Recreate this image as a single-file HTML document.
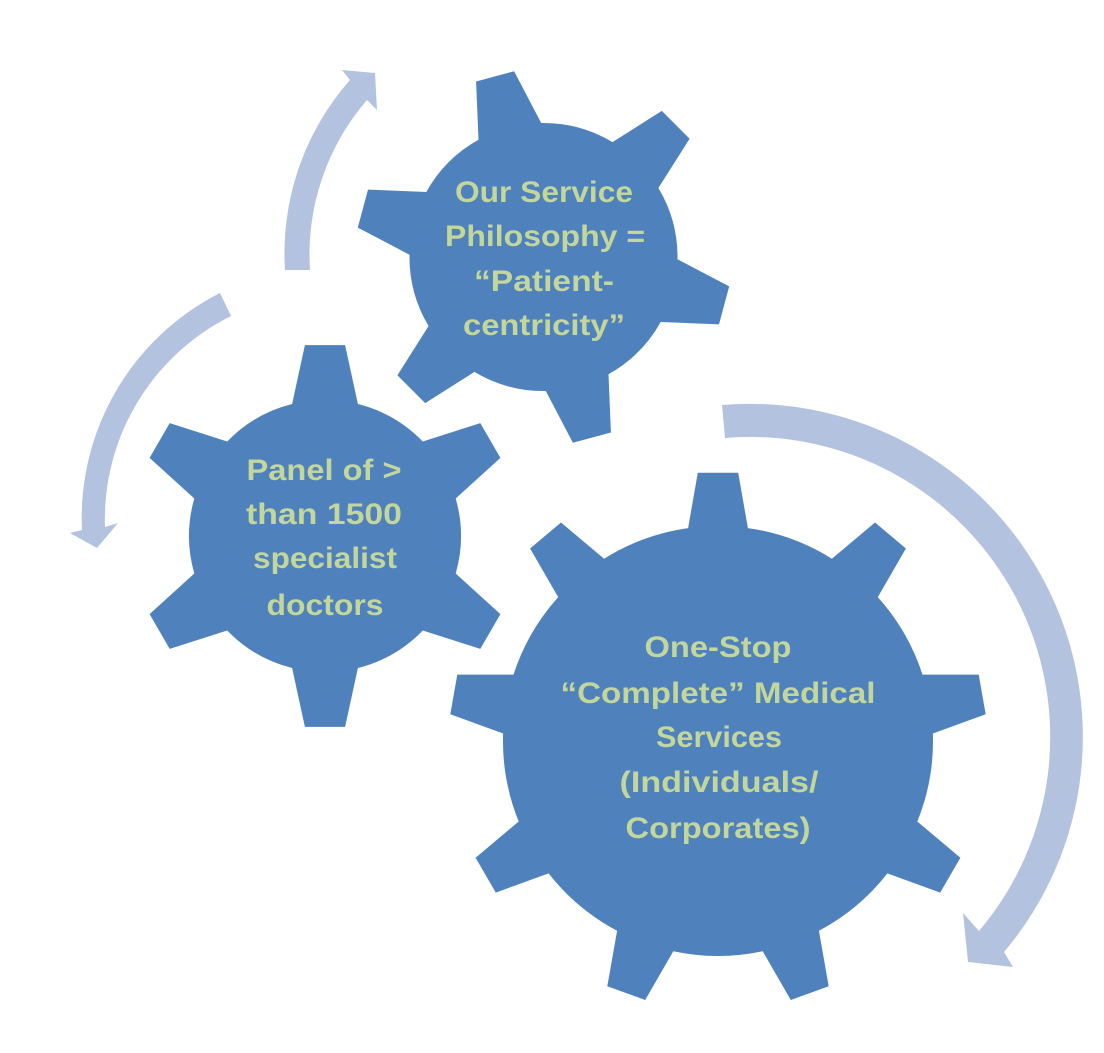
<!DOCTYPE html>
<html><head><meta charset="utf-8"><style>
html,body{margin:0;padding:0;background:#fff;}
svg{display:block;}
text{font-family:"Liberation Sans",sans-serif;font-weight:bold;font-size:30px;fill:#c3d69b;}
</style></head><body>
<svg id="s" width="1104" height="1053" viewBox="0 0 1104 1053" xmlns="http://www.w3.org/2000/svg">
<rect width="1104" height="1053" fill="#fff"/>
<g fill="#b3c3df">
<path d="M722,405 A333,333 0 0 1 1004,952 L1013,967 L968,962 L963,913 L979,931 A300,300 0 0 0 725,438 Z"/>
<path d="M285,270 A262,262 0 0 1 350,80 L342,70 L375,73 L377,110 L367,100 A236,236 0 0 0 310,270 Z"/>
<path d="M220,293 A252,252 0 0 0 82,530 L70,533 L97,548 L118,523 L105,527 A227,227 0 0 1 231,316 Z"/>
</g>
<g fill="#4f81bd">
<path id="g1"/><path id="g2"/><path id="g3"/>
</g>
<g text-anchor="middle">
<text x="544" y="202" textLength="178" lengthAdjust="spacingAndGlyphs">Our Service</text>
<text x="545" y="246" textLength="200" lengthAdjust="spacingAndGlyphs">Philosophy =</text>
<text x="544" y="291" textLength="140" lengthAdjust="spacingAndGlyphs">“Patient-</text>
<text x="544" y="335" textLength="162" lengthAdjust="spacingAndGlyphs">centricity”</text>

<text x="324" y="480" textLength="155" lengthAdjust="spacingAndGlyphs">Panel of &gt;</text>
<text x="324" y="524" textLength="156" lengthAdjust="spacingAndGlyphs">than 1500</text>
<text x="325" y="568" textLength="144" lengthAdjust="spacingAndGlyphs">specialist</text>
<text x="325" y="615" textLength="117" lengthAdjust="spacingAndGlyphs">doctors</text>

<text x="718" y="657" textLength="147" lengthAdjust="spacingAndGlyphs">One-Stop</text>
<text x="718" y="703" textLength="315" lengthAdjust="spacingAndGlyphs">“Complete” Medical</text>
<text x="719" y="747" textLength="126" lengthAdjust="spacingAndGlyphs">Services</text>
<text x="719" y="792" textLength="199" lengthAdjust="spacingAndGlyphs">(Individuals/</text>
<text x="718" y="838" textLength="185" lengthAdjust="spacingAndGlyphs">Corporates)</text>
</g>
</svg>
<script>
function gear(cx,cy,r,R,n,start,bh,th){
  var d="",rad=Math.PI/180;
  function p(a,rr){return (cx+rr*Math.cos(a*rad)).toFixed(1)+","+(cy+rr*Math.sin(a*rad)).toFixed(1);}
  for(var i=0;i<n;i++){
    var a=start+i*360/n;
    d+=(i==0?"M":"L")+p(a-bh,r)+" L"+p(a-th,R)+" L"+p(a+th,R)+" L"+p(a+bh,r)+" ";
    var nb=start+(i+1)*360/n-bh;
    d+="A"+r+","+r+" 0 0 1 "+p(nb,r)+" ";
  }
  return d+"Z";
}
document.getElementById("g1").setAttribute("d",gear(543.5,257,134,188,6,-105,14,6));
document.getElementById("g2").setAttribute("d",gear(325,536,136,192,6,-90,14,6));
document.getElementById("g3").setAttribute("d",gear(718,741,215,269,9,-90,8,4.3));
</script>
</body></html>
